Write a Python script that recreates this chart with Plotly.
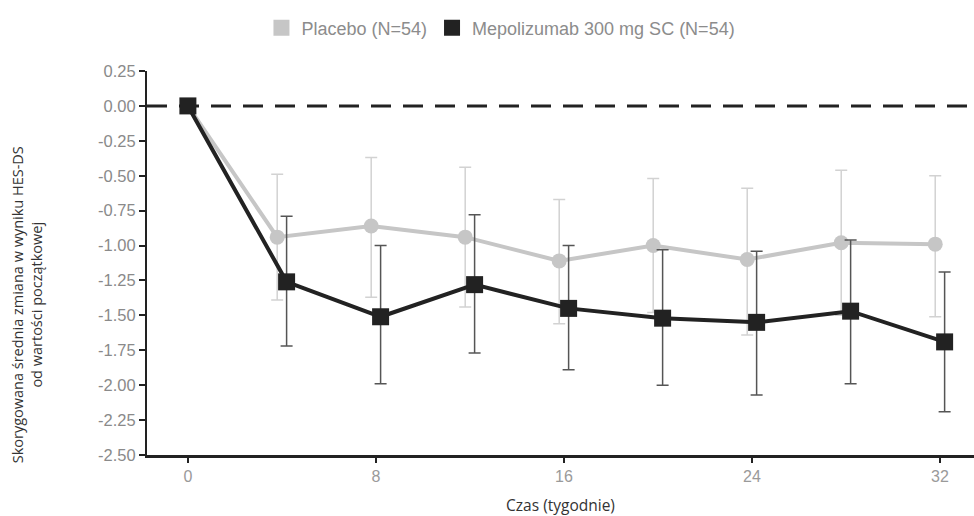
import plotly.graph_objects as go

# Weeks of assessment
weeks = [0, 4, 8, 12, 16, 20, 24, 28, 32]

# Adjusted mean change from baseline in HES-DS score
placebo_mean = [0.0, -0.94, -0.86, -0.94, -1.11, -1.00, -1.10, -0.98, -0.99]
placebo_err_up = [0.0, 0.45, 0.49, 0.50, 0.44, 0.48, 0.51, 0.52, 0.49]
placebo_err_down = [0.0, 0.45, 0.51, 0.50, 0.45, 0.48, 0.54, 0.52, 0.52]

mepo_mean = [0.0, -1.26, -1.51, -1.28, -1.45, -1.52, -1.55, -1.47, -1.69]
mepo_err_up = [0.0, 0.47, 0.51, 0.50, 0.45, 0.49, 0.51, 0.51, 0.50]
mepo_err_down = [0.0, 0.46, 0.48, 0.49, 0.44, 0.48, 0.52, 0.52, 0.50]

y_ticks = [0.25, 0.0, -0.25, -0.5, -0.75, -1.0, -1.25, -1.5, -1.75, -2.0, -2.25, -2.5]
y_tick_text = ["0.25", "0.00", "-0.25", "-0.50", "-0.75", "-1.00", "-1.25",
               "-1.50", "-1.75", "-2.00", "-2.25", "-2.50"]
x_ticks = [0, 8, 16, 24, 32]

# small horizontal dodge so the two groups do not overlap
dodge = 0.2

grey = "#c6c6c6"
dark = "#222222"

fig = go.Figure()

fig.add_trace(go.Scatter(
    x=[w - dodge if w else w for w in weeks], y=placebo_mean,
    mode="lines+markers", showlegend=False,
    line=dict(color=grey, width=4),
    marker=dict(symbol="circle", size=15, color=grey),
    error_y=dict(type="data", symmetric=False, array=placebo_err_up,
                 arrayminus=placebo_err_down, color="#d2d2d2",
                 thickness=1.5, width=6),
))

fig.add_trace(go.Scatter(
    x=[w + dodge if w else w for w in weeks], y=mepo_mean,
    mode="lines+markers", showlegend=False,
    line=dict(color=dark, width=4),
    marker=dict(symbol="square", size=17, color=dark),
    error_y=dict(type="data", symmetric=False, array=mepo_err_up,
                 arrayminus=mepo_err_down, color="#555555",
                 thickness=1.5, width=6),
))

# legend entries drawn as plain squares
fig.add_trace(go.Scatter(
    x=[None], y=[None], mode="markers", name="Placebo (N=54)",
    marker=dict(symbol="square", size=16, color=grey),
))
fig.add_trace(go.Scatter(
    x=[None], y=[None], mode="markers", name="Mepolizumab 300 mg SC (N=54)",
    marker=dict(symbol="square", size=16, color=dark),
))

# reference line at zero change
fig.add_hline(y=0, line=dict(color=dark, width=3, dash="20px,12px"), layer="below")

fig.add_annotation(
    text="Skorygowana średnia zmiana w wyniku HES-DS<br>od wartości początkowej",
    xref="paper", yref="paper", x=-0.145, y=0.39,
    xanchor="center", yanchor="middle",
    textangle=-90, showarrow=False, align="center",
    font=dict(family="Open Sans", size=14.5, color="#333333"),
)

fig.update_layout(
    width=974, height=516,
    margin=dict(l=147, r=0, t=71, b=61),
    paper_bgcolor="white", plot_bgcolor="white",
    showlegend=True,
    legend=dict(orientation="h", x=0.428, xanchor="center", y=1.112,
                yanchor="middle",
                font=dict(family="Liberation Sans", size=18, color="#8c8c8c"),
                itemwidth=30, tracegroupgap=0),
    font=dict(family="Liberation Sans"),
)

fig.update_xaxes(
    range=[-1.74, 33.45], tickvals=x_ticks,
    showline=True, linecolor=dark, linewidth=3,
    ticks="outside", ticklen=5, tickwidth=2, tickcolor=dark,
    tickfont=dict(family="Liberation Sans", size=16, color="#9a9a9a"),
    showgrid=False, zeroline=False,
    title=dict(text="Czas (tygodnie)", standoff=16,
               font=dict(family="Open Sans", size=15.5, color="#333333")),
)

fig.update_yaxes(
    range=[-2.5, 0.25], tickvals=y_ticks, ticktext=y_tick_text,
    showline=True, linecolor=dark, linewidth=2,
    ticks="outside", ticklen=6, tickwidth=2, tickcolor=dark,
    tickfont=dict(family="Liberation Sans", size=16.5, color="#8a8a8a"),
    showgrid=False, zeroline=False,
)

fig.write_html("out.html")
